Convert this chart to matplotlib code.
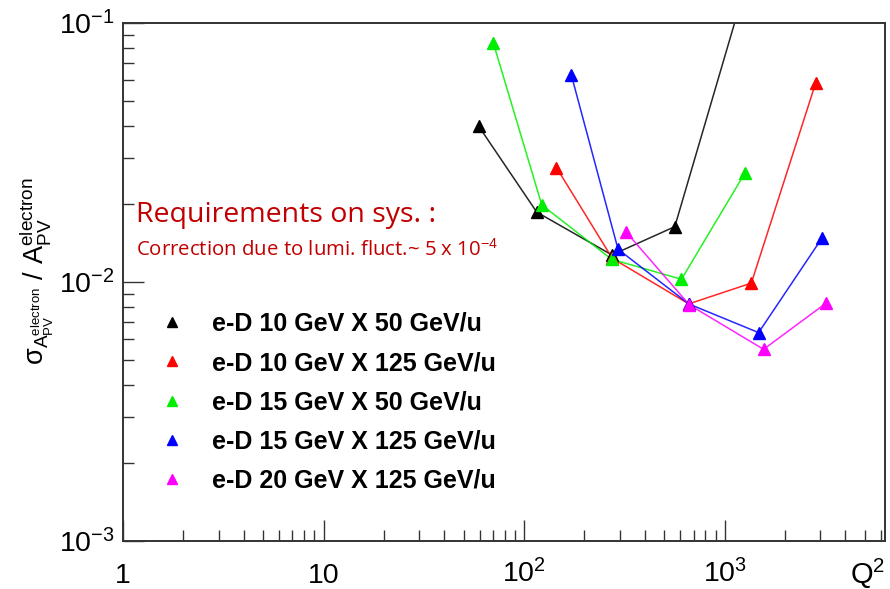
import matplotlib
matplotlib.use("Agg")
import matplotlib.pyplot as plt
from matplotlib.lines import Line2D

plt.rcParams['font.family'] = ['Liberation Sans', 'DejaVu Sans']
plt.rcParams['mathtext.fontset'] = 'custom'
plt.rcParams['mathtext.rm'] = 'Liberation Sans'
plt.rcParams['mathtext.it'] = 'Liberation Sans:italic'
plt.rcParams['mathtext.bf'] = 'Liberation Sans:bold'

# ---------------- data ----------------
labels = ["e-D 10 GeV X 50 GeV/u", "e-D 10 GeV X 125 GeV/u", "e-D 15 GeV X 50 GeV/u",
          "e-D 15 GeV X 125 GeV/u", "e-D 20 GeV X 125 GeV/u"]
colors = ["black", "red", "#00ee00", "blue", "magenta"]

q2_black = [59.3, 115.6, 274, 564, 1250]
err_black = [0.0399, 0.01858, 0.0127, 0.01633, 0.133]

q2_red = [145, 275, 662, 1358, 2846]
err_red = [0.0276, 0.01233, 0.00822, 0.00989, 0.0587]

q2_green = [70.3, 122.5, 273, 609, 1258]
err_green = [0.0833, 0.0198, 0.01222, 0.01023, 0.0262]

q2_blue = [172, 294, 662, 1476, 3050]
err_blue = [0.0628, 0.01336, 0.00822, 0.00637, 0.01472]

q2_mag = [321, 667, 1563, 3190]
err_mag = [0.01563, 0.00815, 0.00549, 0.00826]

xticks = [1, 10, 100, 1000]
xticklabels = ["1", "10", "$10^{2}$", "$10^{3}$"]
yticks = [1e-3, 1e-2, 1e-1]
yticklabels = ["$10^{-3}$", "$10^{-2}$", "$10^{-1}$"]

series = [(q2_black, err_black), (q2_red, err_red), (q2_green, err_green),
          (q2_blue, err_blue), (q2_mag, err_mag)]

# ---------------- figure ----------------
fig = plt.figure(figsize=(8.9, 5.89), dpi=100)
ax = fig.add_axes([123 / 890, 1 - 541 / 589, (885 - 123) / 890, (541 - 22.7) / 589])

for (x, y), c in zip(series, colors):
    ax.plot(x, y, color=c, lw=1.1, alpha=0.85, zorder=2)
    ax.plot(x, y, ls='none', marker='^', ms=9, color=c, mec=c, zorder=3)

ax.set_xscale('log')
ax.set_yscale('log')
ax.set_xlim(1, 6300)
ax.set_ylim(1e-3, 1e-1)

ax.set_xticks(xticks)
ax.set_xticklabels(xticklabels)
ax.set_yticks(yticks)
ax.set_yticklabels(yticklabels)

ax.tick_params(axis='both', which='major', direction='in', length=15, width=1.0,
               labelsize=20.5, top=False, right=False, color='#333333')
ax.tick_params(axis='both', which='minor', direction='in', length=8, width=1.0,
               top=False, right=False, color='#333333')
ax.tick_params(axis='x', which='major', pad=30)
ax.tick_params(axis='y', which='major', pad=6)
for lbl in ax.get_xticklabels():
    lbl.set_va('baseline')

for s in ax.spines.values():
    s.set_linewidth(1.4)
    s.set_color('#333333')

ax.set_ylabel(r"$\mathrm{σ}_{\mathrm{A}_{\mathrm{PV}}^{\mathrm{electron}}}$ / $\mathrm{A}_{\mathrm{PV}}^{\mathrm{electron}}$",
              fontsize=19.5)
ax.yaxis.set_label_coords(-0.088, 0.52)

ax.text(1.0, -0.082, r"Q$^{2}$", transform=ax.transAxes, ha='right', va='baseline', fontsize=21)

# requirements text
fig.text(136 / 890, 1 - 221.7 / 589, "Requirements on sys. :", fontsize=20.5,
         family=['Open Sans', 'DejaVu Sans'], color='#c00000', va='baseline')
fig.text(136 / 890, 1 - 255.5 / 589, r"Correction due to lumi. fluct.~ 5 x 10$^{-4}$", fontsize=14.7,
         family=['Open Sans', 'DejaVu Sans'], color='#c00000', va='baseline')

# legend
handles = [Line2D([], [], ls='none', marker='^', ms=7.5, color=c) for c in colors]
leg = ax.legend(handles, labels, loc='upper left', bbox_to_anchor=(0.051, 0.442),
                frameon=False, handlelength=0.8, handletextpad=1.2, labelspacing=0.61,
                borderpad=0, borderaxespad=0,
                prop={'family': 'Liberation Sans', 'weight': 'bold', 'size': 18})

fig.savefig("out.png", dpi=100)
